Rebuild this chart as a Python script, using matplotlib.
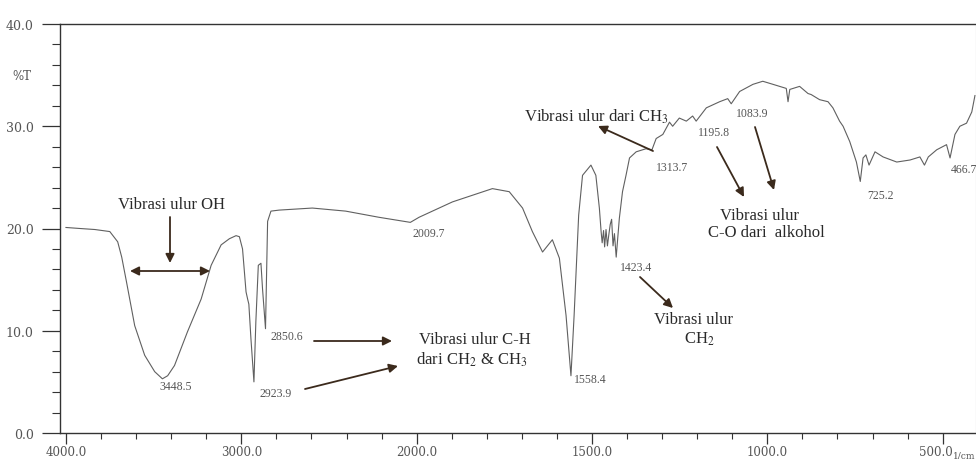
import numpy as np
import matplotlib
matplotlib.use("Agg")
import matplotlib.pyplot as plt
import matplotlib.transforms as mtransforms
from matplotlib.ticker import FixedLocator, NullFormatter

# ---------------- data ----------------
wavenumber = [4000, 3920, 3835, 3750, 3705, 3682, 3655, 3608, 3551, 3494, 3450, 3420,
              3381, 3307, 3229, 3172, 3115, 3068, 3030, 3011, 2993, 2973, 2964, 2957,
              2945, 2928, 2917, 2903, 2888, 2879, 2862, 2850, 2831, 2784, 2595, 2405,
              2216, 2036, 1993, 1898, 1784, 1736, 1698, 1670, 1641, 1613, 1593, 1574,
              1560, 1551, 1538, 1527, 1503, 1489, 1479, 1474, 1471, 1467, 1464, 1460,
              1456, 1452, 1448, 1444, 1440, 1436, 1431, 1422, 1413, 1403, 1393, 1374,
              1346, 1329, 1317, 1298, 1279, 1270, 1251, 1231, 1213, 1203, 1174, 1136,
              1113, 1103, 1079, 1041, 1013, 984, 946, 941, 936, 908, 884, 875, 851, 827,
              813, 794, 784, 765, 746, 735, 727, 719, 710, 693, 670, 631, 593, 565, 552,
              541, 517, 489, 479, 465, 451, 432, 417, 408]
transmittance = [20.1, 20.0, 19.9, 19.7, 18.7, 17.2, 14.8, 10.5, 7.6, 6.0, 5.3, 5.6,
                 6.6, 9.9, 13.1, 16.4, 18.4, 19.0, 19.3, 19.2, 18.0, 13.8, 13.1, 12.6,
                 9.2, 5.0, 10.9, 16.4, 16.6, 14.1, 10.2, 20.7, 21.7, 21.8, 22.0, 21.7,
                 21.1, 20.6, 21.1, 22.6, 23.9, 23.6, 22.0, 19.7, 17.7, 18.9, 17.1, 11.5,
                 5.6, 11.5, 21.3, 25.2, 26.2, 25.2, 22.0, 19.7, 18.6, 19.8, 18.2, 19.9,
                 18.3, 19.4, 20.4, 20.9, 18.3, 19.5, 17.2, 21.0, 23.6, 25.2, 26.9, 27.5,
                 27.8, 27.7, 28.8, 29.2, 30.4, 30.0, 30.8, 30.5, 31.0, 30.5, 31.8, 32.4,
                 32.7, 32.2, 33.4, 34.1, 34.4, 34.1, 33.7, 32.4, 33.6, 33.9, 33.2, 33.1,
                 32.6, 32.4, 31.8, 30.5, 30.0, 28.5, 26.5, 24.6, 26.9, 27.2, 26.2, 27.5,
                 27.0, 26.5, 26.7, 27.0, 26.2, 27.0, 27.7, 28.2, 26.9, 29.2, 30.0, 30.3,
                 31.4, 33.0]

x_major = [4000, 3000, 2000, 1500, 1000, 500]
x_major_labels = ["4000.0", "3000.0", "2000.0", "1500.0", "1000.0", "500.0"]
y_major = [0, 10, 20, 30, 40]
y_major_labels = ["0.0", "10.0", "20.0", "30.0", "40.0"]

peak_labels = ["3448.5", "2923.9", "2850.6", "2009.7", "1558.4", "1423.4",
               "1313.7", "1195.8", "1083.9", "725.2", "466.7"]

# ---------------- figure ----------------
W, H = 976, 460
plt.rcParams["mathtext.fontset"] = "stix"
fig = plt.figure(figsize=(W / 100, H / 100), dpi=100)
ax = fig.add_axes([60 / W, 1 - 434 / H, (W - 60) / W, (434 - 25) / H])


def fwd(w):
    w = np.asarray(w, dtype=float)
    return np.where(w >= 2000, w, 2 * w - 2000)


def inv(u):
    u = np.asarray(u, dtype=float)
    return np.where(u >= 2000, u, (u + 2000) / 2)


ax.set_xscale("function", functions=(fwd, inv))
ax.plot(wavenumber, transmittance, color="#606060", lw=0.8)
ax.set_xlim(4034, 405)
ax.set_ylim(0, 40)

# ticks
minor_x = [w for w in range(3800, 2000, -200) if w not in x_major] + \
          [w for w in range(1900, 400, -100) if w not in x_major]
ax.xaxis.set_major_locator(FixedLocator(x_major))
ax.set_xticklabels(x_major_labels)
ax.xaxis.set_minor_locator(FixedLocator(minor_x))
ax.xaxis.set_minor_formatter(NullFormatter())
ax.yaxis.set_major_locator(FixedLocator(y_major))
ax.set_yticklabels(y_major_labels)
ax.yaxis.set_minor_locator(FixedLocator([v for v in range(2, 40, 2) if v % 10]))
ax.yaxis.set_minor_formatter(NullFormatter())

ax.tick_params(axis="x", which="major", direction="out", length=8, width=0.9,
               pad=0.5, colors="#333333", labelsize=8.5, labelcolor="#555555")
ax.tick_params(axis="x", which="minor", direction="out", length=4, width=0.8,
               colors="#333333")
ax.tick_params(axis="y", which="major", direction="out", length=13, width=0.9,
               pad=6, colors="#333333", labelsize=9, labelcolor="#555555")
ax.tick_params(axis="y", which="minor", direction="out", length=6, width=0.8,
               colors="#333333")
for lab in ax.get_xticklabels() + ax.get_yticklabels():
    lab.set_family("DejaVu Serif")

# nudge the last x tick label slightly left so it does not collide with the unit
last = ax.get_xticklabels()[-1]
last.set_transform(last.get_transform() +
                   mtransforms.ScaledTranslation(-7 / 100, 0, fig.dpi_scale_trans))

for side in ["left", "bottom", "top"]:
    ax.spines[side].set_color("#333333")
    ax.spines[side].set_linewidth(1.0)
ax.spines["right"].set_color("#aaaaaa")
ax.spines["right"].set_linewidth(0.8)


def P(x, y):
    return (x / W, 1 - y / H)


serif = "Liberation Serif"
# %T label and unit
fig.text(*P(22, 77), "%T", ha="center", va="center", fontsize=8.5,
         family="DejaVu Serif", color="#555555")
fig.text(*P(975, 456), "1/cm", ha="right", va="center", fontsize=6.5,
         family="DejaVu Serif", color="#555555")

# peak labels
peak_label_px = [(176, 387), (276, 394), (287, 337), (429, 234), (590, 380),
                 (636, 268), (672, 168), (714, 133), (752, 114), (880, 196),
                 (964, 170)]
for lab, (px, py) in zip(peak_labels, peak_label_px):
    fig.text(*P(px, py), lab, ha="center", va="center", fontsize=8.5,
             family=serif, color="#555555")

# annotation texts
tcol = "#2a2a2a"
fig.text(*P(172, 205), "Vibrasi ulur OH", ha="center", va="center",
         fontsize=12, family=serif, color=tcol)
fig.text(*P(475, 340), "Vibrasi ulur C-H", ha="center", va="center",
         fontsize=12, family=serif, color=tcol)
fig.text(*P(472, 360), r"dari CH$_2$ & CH$_3$", ha="center", va="center",
         fontsize=12, family=serif, color=tcol)
fig.text(*P(596, 117), r"Vibrasi ulur dari CH$_3$", ha="center", va="center",
         fontsize=12, family=serif, color=tcol)
fig.text(*P(760, 216), "Vibrasi ulur", ha="center", va="center",
         fontsize=12, family=serif, color=tcol)
fig.text(*P(766, 233), "C-O dari  alkohol", ha="center", va="center",
         fontsize=12, family=serif, color=tcol)
fig.text(*P(693, 320), "Vibrasi ulur", ha="center", va="center",
         fontsize=12, family=serif, color=tcol)
fig.text(*P(699, 339), r"CH$_2$", ha="center", va="center",
         fontsize=12, family=serif, color=tcol)

# arrows
acol = "#3b2a1c"
arrows = [
    ((170, 218), (170, 264), "-|>"),
    ((130, 272), (210, 272), "<|-|>"),
    ((314, 342), (392, 342), "-|>"),
    ((305, 390), (398, 367), "-|>"),
    ((653, 152), (598, 127), "-|>"),
    ((640, 278), (673, 309), "-|>"),
    ((717, 148), (744, 198), "-|>"),
    ((755, 128), (774, 191), "-|>"),
]
for (x0, y0), (x1, y1), style in arrows:
    fig.add_artist(matplotlib.patches.FancyArrowPatch(
        P(x0, y0), P(x1, y1), transform=fig.transFigure,
        arrowstyle=style, mutation_scale=13, color=acol, lw=1.3,
        shrinkA=0, shrinkB=0))

fig.savefig("out.png", dpi=100)
